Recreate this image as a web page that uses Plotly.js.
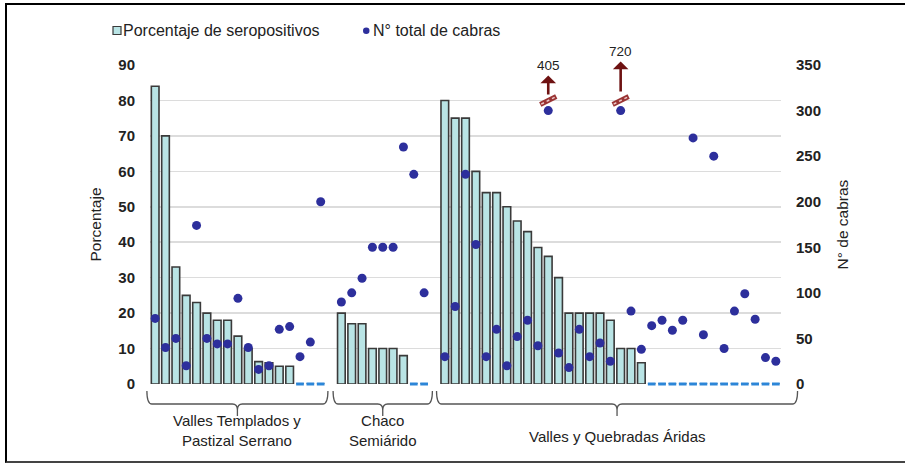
<!DOCTYPE html>
<html><head><meta charset="utf-8">
<script src="https://cdn.plot.ly/plotly-3.0.1.min.js"></script>
<style>
html,body{margin:0;padding:0;background:#fff}
#chart{width:905px;height:465px;position:absolute;left:0;top:0}
#frame{position:absolute;left:5px;top:3px;width:900px;height:460px;border-top:2.5px solid #000;border-left:2.5px solid #000;border-bottom:2px solid #444;pointer-events:none;box-sizing:border-box}
</style></head><body>
<div id="chart"></div><div id="frame"></div>
<script>
// ---- data ----
const groupNames = ['Valles Templados y<br>Pastizal Serrano', 'Chaco<br>Semiárido', 'Valles y Quebradas Áridas'];
const seriesNames = ['Porcentaje de seropositivos', 'N° total de cabras'];
const pctG1 = [84, 70, 33, 25, 23, 20, 18, 18, 13.5, 10, 6.3, 6, 5, 5, 0, 0, 0];
const pctG2 = [20, 17, 17, 10, 10, 10, 8, 0, 0];
const pctG3 = [80, 75, 75, 60, 54, 54, 50, 46, 43, 38.5, 36, 30, 20, 20, 20, 20, 18, 10, 10, 6,
               0, 0, 0, 0, 0, 0, 0, 0, 0, 0, 0, 0, 0];
const goatsG1 = [72, 40, 50, 20, 174, 50, 44, 44, 94, 40, 16, 20, 60, 63, 30, 46, 200];
const goatsG2 = [90, 100, 116, 150, 150, 150, 260, 230, 100];
const goatsG3 = [30, 85, 230, 153, 30, 60, 20, 52, 70, 42, 405, 34, 18, 60, 30, 45, 25, 720, 80, 38,
                 64, 70, 59, 70, 270, 54, 250, 39, 80, 99, 71, 29, 25];
const leftTicks = [0, 10, 20, 30, 40, 50, 60, 70, 80, 90];
const rightTicks = [0, 50, 100, 150, 200, 250, 300, 350];
const goatBreak = 300;   // values above this are drawn on the break line

// ---- assemble ----
const groupsPct = [pctG1, pctG2, pctG3];
const groupsGoats = [goatsG1, goatsG2, goatsG3];
let pct = [], goats = [], spans = [];
groupsPct.forEach((g, gi) => {
  if (gi > 0) { pct.push(null); goats.push(null); }
  const start = pct.length;
  pct = pct.concat(g);
  goats = goats.concat(groupsGoats[gi]);
  spans.push([start, pct.length - 1]);
});
const xs = pct.map((_, i) => i);
const N = xs.length;
const goatsShown = goats.map(v => v == null ? null : Math.min(v, goatBreak));
const zeroX = [], zeroY = [];
pct.forEach((v, i) => { if (v === 0) { zeroX.push(i); zeroY.push(0); } });

const FONT = 'Liberation Sans, Arial, sans-serif';
const BAR_FILL = '#b9e4e5', BAR_LINE = '#3a3a3a', DOT = '#2d2f9c';
const traces = [
  {type: 'bar', x: xs, y: pct, name: seriesNames[0],
   marker: {color: BAR_FILL, line: {color: BAR_LINE, width: 1.6}}, yaxis: 'y'},
  {type: 'scatter', mode: 'markers', x: zeroX, y: zeroY, showlegend: false, hoverinfo: 'skip',
   marker: {symbol: 'line-ew-open', size: 5.5, color: '#2c86d8', line: {color: '#2c86d8', width: 3}}, yaxis: 'y', cliponaxis: false},
  {type: 'scatter', mode: 'markers', x: xs, y: goatsShown, name: seriesNames[1],
   marker: {color: DOT, size: 9}, yaxis: 'y2', cliponaxis: false}
];

// plot geometry (pixels) for helpers
const L = 150, R = 124, T = 65, B = 81, W = 905, H = 465;
const pw = W - L - R, ph = H - T - B;
const xr = [-0.5, N - 0.5];
const px2paperX = px => (px - L) / pw;
const idx2paperX = i => (i - xr[0]) / (xr[1] - xr[0]);
const py2paperY = py => (H - B - py) / ph;

const shapes = [];
const annotations = [];

// legend (drawn to match the original's tight symbol/text spacing)
shapes.push({type: 'rect', xref: 'paper', yref: 'paper', x0: px2paperX(113), x1: px2paperX(121),
  y0: py2paperY(34.5), y1: py2paperY(26.5), fillcolor: BAR_FILL, line: {color: BAR_LINE, width: 1.2}});
shapes.push({type: 'circle', xref: 'paper', yref: 'paper', x0: px2paperX(363), x1: px2paperX(369.5),
  y0: py2paperY(34), y1: py2paperY(27.5), fillcolor: DOT, line: {color: DOT, width: 0}});
[[121, seriesNames[0]], [371, seriesNames[1]]].forEach(([px, t]) => {
  annotations.push({xref: 'paper', yref: 'paper', x: px2paperX(px), y: py2paperY(30.5), xanchor: 'left', yanchor: 'middle',
    text: t, showarrow: false, font: {family: FONT, size: 16, color: '#222'}});
});

// brackets
const bracketPad = [[0.8, 0.7], [0.8, 0.8], [0.8, 2.1]];
spans.forEach((s, gi) => {
  const xL = idx2paperX(s[0] - bracketPad[gi][0]);
  const xR = idx2paperX(s[1] + bracketPad[gi][1]);
  const xM = (xL + xR) / 2;
  const r = 5 / pw;
  const yTop = py2paperY(391), yMid = py2paperY(404), yTip = py2paperY(416);
  const yM2 = py2paperY(410);
  const path = `M${xL},${yTop} Q${xL},${yMid} ${xL + r},${yMid} L${xM - r},${yMid} Q${xM},${yMid} ${xM},${yM2} L${xM},${yTip} M${xM},${yM2} Q${xM},${yMid} ${xM + r},${yMid} L${xR - r},${yMid} Q${xR},${yMid} ${xR},${yTop}`;
  shapes.push({type: 'path', xref: 'paper', yref: 'paper', path: path, line: {color: '#555', width: 1.3}});
  annotations.push({xref: 'paper', yref: 'paper', x: xM, y: py2paperY(gi === 2 ? 436 : 430),
    xanchor: 'center', yanchor: 'middle',
    text: groupNames[gi], showarrow: false, font: {family: FONT, size: 15, color: '#222'}, align: 'center'});
});

// broken values
const breakStyle = [{ay: -29, ys: 16}, {ay: -40, ys: 19}];
let bk = 0;
goats.forEach((v, i) => {
  if (v != null && v > goatBreak) {
    const st = breakStyle[bk % breakStyle.length]; bk++;
    annotations.push({xref: 'x', yref: 'y2', x: i, y: goatBreak, yshift: st.ys, text: String(v),
      showarrow: true, arrowside: 'start', arrowhead: 2, arrowsize: 1, arrowwidth: 2.6, arrowcolor: '#6e1212',
      ax: 0, ay: st.ay, font: {family: FONT, size: 13.5, color: '#222'}, startstandoff: 1});
    shapes.push({type: 'line', xref: 'x', yref: 'y2', xsizemode: 'pixel', ysizemode: 'pixel',
      xanchor: i, yanchor: goatBreak, x0: -8, x1: 8, y0: 6, y1: 14, line: {color: '#9a3434', width: 5}});
    shapes.push({type: 'line', xref: 'x', yref: 'y2', xsizemode: 'pixel', ysizemode: 'pixel',
      xanchor: i, yanchor: goatBreak, x0: -7, x1: 7, y0: 6.5, y1: 13.5, line: {color: '#ecc8c8', width: 1.5, dash: 'dot'}});
  }
});

const layout = {
  width: W, height: H,
  margin: {l: L, r: R, t: T, b: B},
  paper_bgcolor: '#fff', plot_bgcolor: '#fff',
  font: {family: FONT, color: '#222'},
  bargap: 0.26,
  showlegend: false,
  xaxis: {range: xr, showticklabels: false, ticks: '', showgrid: false, zeroline: false, showline: false, fixedrange: true},
  yaxis: {range: [0, 90], tickvals: leftTicks, showgrid: true, gridcolor: '#dcdcdc', gridwidth: 1.5,
    zeroline: false, showline: false, ticks: '', ticklabelstandoff: 14,
    tickfont: {family: FONT, size: 15, color: '#222', weight: 'bold'},
    title: {text: 'Porcentaje', font: {family: FONT, size: 15.5, color: '#222'}, standoff: 12}},
  yaxis2: {range: [0, 350], tickvals: rightTicks, overlaying: 'y', side: 'right', showgrid: false,
    zeroline: false, showline: false, ticks: '', ticklabelstandoff: 14,
    tickfont: {family: FONT, size: 15, color: '#222', weight: 'bold'},
    title: {text: 'N° de cabras', font: {family: FONT, size: 15.5, color: '#222'}, standoff: 17}},
  shapes: shapes,
  annotations: annotations
};
Plotly.newPlot('chart', traces, layout, {staticPlot: true, displayModeBar: false});
</script>
</body></html>
